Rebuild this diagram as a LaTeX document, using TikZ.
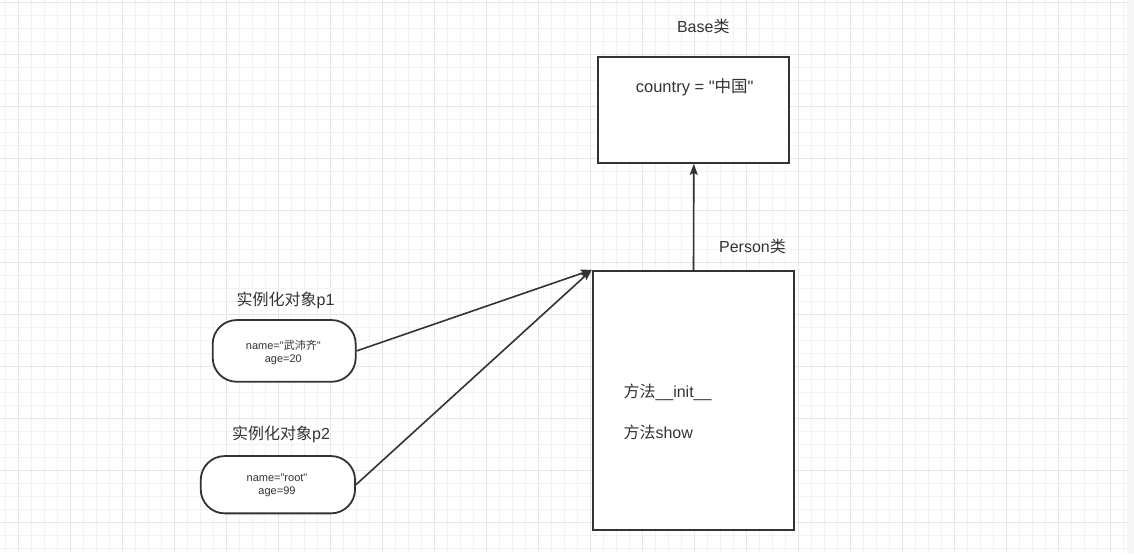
\documentclass[tikz,border=0pt]{standalone}
\usepackage{fontspec}
\setmainfont{Liberation Sans}[Ligatures=TeXOff]
\newfontfamily\cjk{Noto Sans CJK SC}
\usetikzlibrary{arrows.meta}
\definecolor{ink}{HTML}{333333}
\definecolor{txt}{HTML}{333333}
\definecolor{gminor}{HTML}{F2F2F2}
\definecolor{gmajor}{HTML}{E6E6E6}
\tikzset{
  box/.style={draw=ink, line width=1.8pt, fill=white, rectangle, inner sep=0pt},
  pill/.style={draw=ink, line width=1.8pt, fill=white, rectangle, rounded corners=24pt, inner sep=0pt},
  lbl/.style={text=txt, inner sep=0pt, font=\fontsize{16}{19}\selectfont},
  small/.style={text=txt, inner sep=0pt, align=center, font=\fontsize{11}{13.3}\selectfont},
  arr/.style={draw=ink, line width=1.6pt, -{Stealth[length=11pt,width=8pt,inset=2pt]}},
}
\begin{document}
\begin{tikzpicture}[x=1pt,y=-1pt]
\useasboundingbox (0,0) rectangle (1134,554);
\fill[white] (0,0) rectangle (1134,554);
\fill[gminor!70] (1127,0) rectangle (1134,554);
% grid
\foreach \i in {0,...,86} {
  \pgfmathtruncatemacro{\m}{mod(\i,4)}
  \ifnum\m=1
    \draw[gmajor, line width=1pt] ({5.7+13*\i},0) -- ({5.7+13*\i},553);
  \else
    \draw[gminor, line width=1pt] ({5.7+13*\i},0) -- ({5.7+13*\i},553);
  \fi
}
\foreach \j in {0,...,42} {
  \pgfmathtruncatemacro{\m}{mod(\j,4)}
  \ifnum\m=0
    \draw[gmajor, line width=1pt] (0,{2+13*\j}) -- (1127,{2+13*\j});
  \else
    \draw[gminor, line width=1pt] (0,{2+13*\j}) -- (1127,{2+13*\j});
  \fi
}
% boxes
\node[box, minimum width=191pt, minimum height=106pt] (base) at (693.8,110) {};
\node[box, minimum width=201.6pt, minimum height=259.3pt] (person) at (693.5,400.4) {};
\node[pill, minimum width=143pt, minimum height=61.7pt] (p1) at (284.2,350.9) {};
\node[pill, minimum width=154.3pt, minimum height=57.3pt] (p2) at (277.9,484.7) {};
% labels
\node[lbl] (basetitle) at (703.3,26) {Base{\cjk 类}};
\node[lbl, font=\fontsize{16.5}{19}\selectfont] (country) at (694.7,87.3) {country = "{\cjk 中国}"};
\node[lbl] (persontitle) at (752.5,246) {Person{\cjk 类}};
\node[lbl, anchor=west] (init) at (623.3,392.7) {{\cjk 方法}\_\_init\_\_};
\node[lbl, anchor=west] (show) at (623.3,432.3) {{\cjk 方法}show};
\node[lbl] (p1title) at (285.5,300) {{\cjk 实例化对象}p1};
\node[lbl] (p2title) at (281,434.3) {{\cjk 实例化对象}p2};
\node[small] (p1text) at (283.3,352.3) {name="{\cjk 武沛齐}"\\age=20};
\node[small] (p2text) at (277,485) {name="root"\\age=99};
% connectors
\draw[arr] (person.north) -- (base.south);
\draw[arr] (p1.east) -- (person.north west);
\draw[arr] (p2.east) -- (person.north west);
\end{tikzpicture}
\end{document}
